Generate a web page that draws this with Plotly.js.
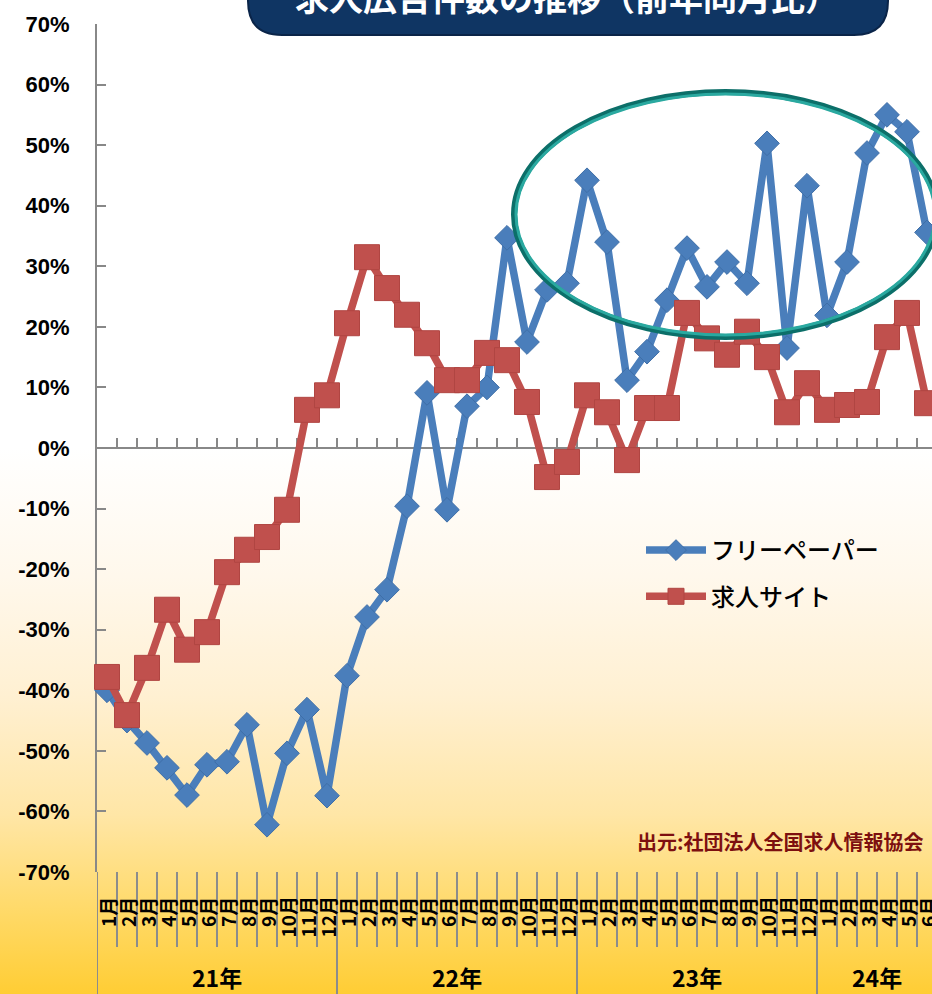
<!DOCTYPE html>
<html>
<head>
<meta charset="utf-8">
<script src="https://cdn.plot.ly/plotly-3.0.1.min.js"></script>
<style>
  html, body { margin: 0; padding: 0; }
  body {
    width: 932px; height: 994px; overflow: hidden;
    background: linear-gradient(to bottom, #ffffff 0%, #ffffff 45%, #fff8ec 58%, #fff0d2 70%, #ffe6a6 82%, #ffd966 92%, #ffcd34 100%);
  }
  #chart { width: 932px; height: 994px; }
</style>
</head>
<body>
<div id="chart"></div>
<script>
// ---- data ----
const yearLabels = ["21年","22年","23年","24年"];
const catYears = [
  "21年","21年","21年","21年","21年","21年","21年","21年","21年","21年","21年","21年",
  "22年","22年","22年","22年","22年","22年","22年","22年","22年","22年","22年","22年",
  "23年","23年","23年","23年","23年","23年","23年","23年","23年","23年","23年","23年",
  "24年","24年","24年","24年","24年","24年"
];
const catMonths = [
  "1","2","3","4","5","6","7","8","9","10","11","12",
  "1","2","3","4","5","6","7","8","9","10","11","12",
  "1","2","3","4","5","6","7","8","9","10","11","12",
  "1","2","3","4","5","6"
];
const freePaper = [
  -40, -45, -48.7, -52.8, -57.3, -52.3, -51.8, -45.7, -62.2, -50.4, -43.2, -57.4,
  -37.6, -27.9, -23.4, -9.6, 9.1, -10.2, 6.9, 10, 34.7, 17.5, 26.1, 27.2,
  44.2, 34, 11.2, 15.9, 24.4, 33, 26.6, 30.7, 27.2, 50.3, 16.5, 43.3,
  21.9, 30.7, 48.7, 55, 52.2, 35.6
];
const jobSite = [
  -37.8, -44.1, -36.3, -26.7, -33.3, -30.4, -20.5, -16.8, -14.7, -10.2, 6.3, 8.7,
  20.6, 31.5, 26.4, 22, 17.3, 11.2, 11.2, 15.7, 14.5, 7.6, -4.8, -2.3,
  8.7, 5.9, -2, 6.6, 6.6, 22.3, 18.1, 15.4, 19.2, 15, 5.9, 10.7,
  6.3, 7.1, 7.6, 18.3, 22.3, 7.4
];
const seriesNames = ["フリーペーパー", "求人サイト"];
const yTickVals = [70, 60, 50, 40, 30, 20, 10, 0, -10, -20, -30, -40, -50, -60, -70];
const yTickText = ["70%","60%","50%","40%","30%","20%","10%","0%","-10%","-20%","-30%","-40%","-50%","-60%","-70%"];
const chartTitle = "求人広告件数の推移（前年同月比）";
const sourceText = "出元:社団法人全国求人情報協会";

// ---- geometry helpers (pixel -> paper) ----
const W = 932, H = 994;
const L = 97, R = 932, T = 24, B = 872;
const px2x = p => (p - L) / (R - L);
const py2y = p => (B - p) / (B - T);

const idx = catMonths.map((_, i) => i);

const traces = [
  {
    x: idx, y: freePaper, name: seriesNames[0], type: 'scatter', mode: 'lines+markers',
    legendgroup: 'a',
    line: { color: '#4a7ebb', width: 7.5 },
    marker: { symbol: 'diamond', size: 19, color: '#4a7ebb', line: { color: '#3f6fa8', width: 1 } },
    cliponaxis: false
  },
  {
    x: idx, y: jobSite, name: seriesNames[1], type: 'scatter', mode: 'lines+markers',
    legendgroup: 'b',
    line: { color: '#c0504d', width: 7.5 },
    marker: { symbol: 'square', size: 25, color: '#c0504d', line: { color: '#b04542', width: 1 } },
    cliponaxis: false
  }
];

// boundaries / separators
const shapes = [];
const boundaryVals = [];
for (let i = 0; i <= idx.length; i++) {
  const bx = i - 0.5;
  const yearStart = (i === 0) || (i < idx.length && catYears[i] !== catYears[i - 1]);
  if (i > 0) boundaryVals.push(bx);
  shapes.push({
    type: 'line', xref: 'x', yref: 'paper', layer: 'below',
    x0: bx, x1: bx, y0: py2y(872), y1: py2y(yearStart ? 1000 : 947),
    line: { color: '#8c8c8c', width: 2 }
  });
}
// title box (rounded bottom corners)
const bx0 = 248, bx1 = 888, byb = 35, rad = 34, byt = -60;
const P = (x, y) => px2x(x).toFixed(5) + ',' + py2y(y).toFixed(5);
shapes.push({
  type: 'path', xref: 'paper', yref: 'paper', layer: 'above',
  path: 'M' + P(bx0, byt) + ' L' + P(bx0, byb - rad) +
        ' Q' + P(bx0, byb) + ' ' + P(bx0 + rad, byb) +
        ' L' + P(bx1 - rad, byb) +
        ' Q' + P(bx1, byb) + ' ' + P(bx1, byb - rad) +
        ' L' + P(bx1, byt) + ' Z',
  fillcolor: '#0f3563', line: { color: '#0a2448', width: 2 }
});
// ellipse highlight
shapes.push({
  type: 'circle', xref: 'paper', yref: 'paper', layer: 'above',
  x0: px2x(514), x1: px2x(937), y0: py2y(337), y1: py2y(92),
  line: { color: '#0c6f69', width: 6 }
});
shapes.push({
  type: 'circle', xref: 'paper', yref: 'paper', layer: 'above',
  x0: px2x(516), x1: px2x(935), y0: py2y(335), y1: py2y(94),
  line: { color: '#2aa9a0', width: 3 }
});

// annotations
const annotations = [];
idx.forEach(i => {
  annotations.push({
    x: i, y: py2y(896), xref: 'x', yref: 'paper', showarrow: false,
    text: catMonths[i] + '月', textangle: -90, xanchor: 'center', yanchor: 'top',
    borderpad: 0,
    font: { family: 'Noto Sans CJK JP', size: 19, color: '#000', weight: 'bold' }
  });
});
yearLabels.forEach(yl => {
  const members = idx.filter(i => catYears[i] === yl);
  const cx = (members[0] + members[members.length - 1]) / 2;
  annotations.push({
    x: cx, y: py2y(977), xref: 'x', yref: 'paper', showarrow: false,
    text: yl, xanchor: 'center', yanchor: 'middle', borderpad: 0,
    font: { family: 'Noto Sans CJK JP', size: 23, color: '#000', weight: 'bold' }
  });
});
annotations.push({
  x: px2x(567), y: py2y(-4), xref: 'paper', yref: 'paper', showarrow: false,
  text: chartTitle, xanchor: 'center', yanchor: 'middle',
  font: { family: 'Noto Sans CJK JP', size: 34, color: '#ffffff', weight: 'bold' }
});
annotations.push({
  x: px2x(926), y: py2y(841), xref: 'paper', yref: 'paper', showarrow: false,
  text: sourceText, xanchor: 'right', yanchor: 'middle',
  font: { family: 'Noto Sans CJK JP', size: 20, color: '#7d0f0f', weight: 'bold' }
});

const layout = {
  width: W, height: H,
  margin: { l: L, r: W - R, t: T, b: H - B, pad: 0 },
  paper_bgcolor: 'rgba(0,0,0,0)', plot_bgcolor: 'rgba(0,0,0,0)',
  showlegend: true,
  legend: {
    x: px2x(641), y: py2y(528), xanchor: 'left', yanchor: 'top',
    bgcolor: 'rgba(0,0,0,0)', itemwidth: 60, tracegroupgap: 12,
    font: { family: 'Noto Sans CJK JP', size: 24, color: '#000', weight: 500 }
  },
  xaxis: {
    range: [-0.5, 41.25], anchor: 'free', position: 0.5,
    showline: true, linecolor: '#888888', linewidth: 2,
    ticks: 'inside', ticklen: 9, tickwidth: 1.5, tickcolor: '#888888',
    tickmode: 'array', tickvals: boundaryVals, showticklabels: false,
    showgrid: false, zeroline: false, layer: 'below traces'
  },
  yaxis: {
    range: [-70, 70], showline: true, linecolor: '#888888', linewidth: 2,
    ticks: 'inside', ticklen: 9, tickwidth: 2, tickcolor: '#888888',
    tickmode: 'array', tickvals: yTickVals, ticktext: yTickText,
    tickfont: { family: 'Liberation Sans, Arial', size: 22, color: '#000', weight: 'bold' },
    ticklabelstandoff: 21,
    showgrid: false, zeroline: false, layer: 'below traces'
  },
  shapes: shapes,
  annotations: annotations
};

Plotly.newPlot('chart', traces, layout, { displayModeBar: false, staticPlot: true });
</script>
</body>
</html>
